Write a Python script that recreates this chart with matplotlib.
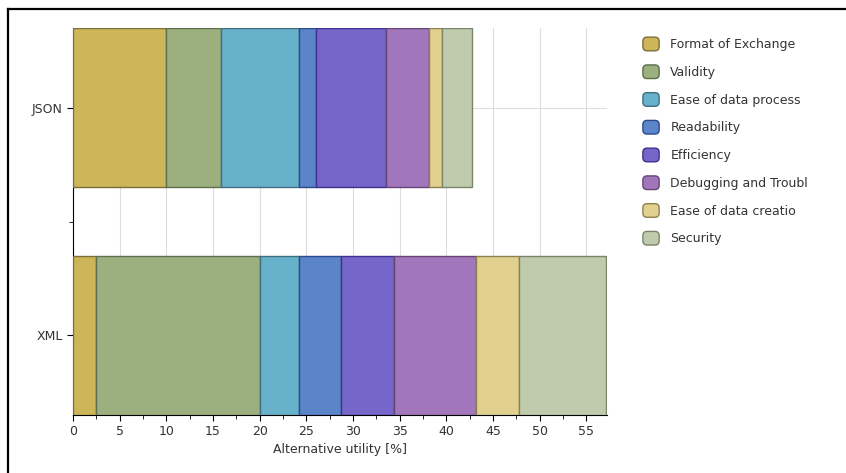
import matplotlib
matplotlib.use('Agg')
import matplotlib.pyplot as plt
from matplotlib.patches import FancyBboxPatch
from matplotlib.lines import Line2D
from matplotlib.legend_handler import HandlerPatch
from matplotlib.ticker import MultipleLocator, FixedLocator

# data
alternatives = ['XML', 'JSON']
criteria = ['Format of Exchange', 'Validity', 'Ease of data process', 'Readability',
            'Efficiency', 'Debugging and Troubl', 'Ease of data creatio', 'Security']
xml_vals = [2.5, 17.5, 4.2, 4.5, 5.7, 8.8, 4.6, 9.3]
json_vals = [10.0, 5.9, 8.3, 1.8, 7.5, 4.6, 1.4, 3.3]
colors = ['#CDB55A', '#9BB07E', '#67B1CB', '#5B84C9', '#7766C9', '#A276BA', '#E1D08E', '#BFCBAC']
edges = ['#7d6e35', '#5f6e4c', '#3f6f80', '#2a4a8a', '#3e3190', '#654576', '#8c8050', '#7a8468']


class RoundHandler(HandlerPatch):
    # rounded square legend keys
    def create_artists(self, legend, orig_handle, xdescent, ydescent, width, height, fontsize, trans):
        p = FancyBboxPatch((-xdescent, -ydescent), width, height,
                           boxstyle='round,pad=0,rounding_size=3',
                           facecolor=orig_handle.get_facecolor(),
                           edgecolor=orig_handle.get_edgecolor(), linewidth=1.0)
        p.set_transform(trans)
        return [p]


fig = plt.figure(figsize=(8.46, 4.73), dpi=100)
ax = fig.add_axes([0.0863, 0.1226, 0.631, 0.818])

left = [0.0, 0.0]
bars = []
for i, name in enumerate(criteria):
    vals = [xml_vals[i], json_vals[i]]
    b = ax.barh([0, 1], vals, height=0.7, left=left, color=colors[i],
                edgecolor=edges[i], linewidth=1.0, label=name, zorder=3)
    bars.append(b[0])
    left = [left[0] + vals[0], left[1] + vals[1]]

ax.set_xlim(0, 57.2)
ax.set_ylim(-0.35, 1.35)
ax.set_yticks([0, 1])
ax.set_yticklabels(alternatives, fontsize=9, color='#333333')
ax.yaxis.set_minor_locator(FixedLocator([0.5]))
ax.xaxis.set_major_locator(MultipleLocator(5))
ax.xaxis.set_minor_locator(MultipleLocator(2.5))
ax.tick_params(axis='x', labelsize=9, labelcolor='#333333', length=4)
ax.tick_params(axis='y', length=4)
ax.tick_params(which='minor', length=3)
ax.grid(True, which='major', color='#dddddd', linewidth=0.8, zorder=0)
ax.set_axisbelow(True)
for s in ['top', 'right']:
    ax.spines[s].set_visible(False)
ax.set_xlabel('Alternative utility [%]', fontsize=9, color='#333333', labelpad=3)

leg = ax.legend(handles=bars, labels=criteria, loc='upper left',
                bbox_to_anchor=(0.754, 0.932), bbox_transform=fig.transFigure,
                frameon=False, fontsize=9, handlelength=1.3, handleheight=1.3,
                labelspacing=1.1, handletextpad=0.9, borderaxespad=0,
                handler_map={bars[0].__class__: RoundHandler()})
for t in leg.get_texts():
    t.set_color('#333333')

# frame lines of the screenshot (top and left only)
fig.add_artist(Line2D([0.0095, 1.0], [0.982, 0.982], transform=fig.transFigure,
                      color='black', linewidth=1.6))
fig.add_artist(Line2D([0.0095, 0.0095], [0.0, 0.982], transform=fig.transFigure,
                      color='black', linewidth=1.6))

fig.savefig('out.png', dpi=100)
